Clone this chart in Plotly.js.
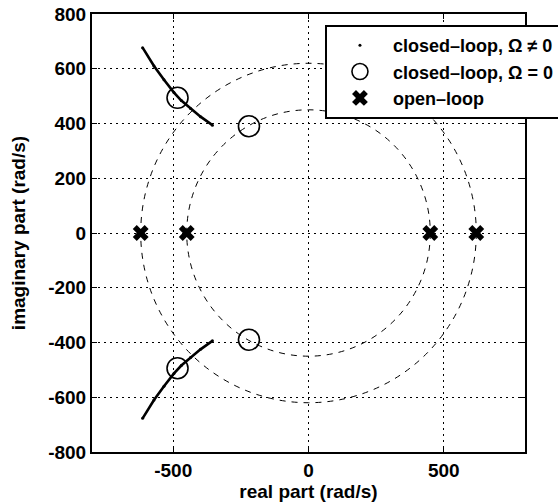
<!DOCTYPE html>
<html>
<head>
<meta charset="utf-8">
<script src="https://cdn.plot.ly/plotly-3.0.1.min.js"></script>
<style>html,body{margin:0;padding:0;background:#fff;}#chart{width:558px;height:502px;}</style>
</head>
<body>
<div id="chart"></div>
<script>
// Closed-loop poles, Omega != 0 (root locus branches)
var locusUpperRe = [-613, -571, -534, -497, -470, -436, -399, -355];
var locusUpperIm = [677, 610, 560, 513, 484, 455, 425, 394];
var locusLowerRe = [-613, -571, -534, -497, -470, -436, -399, -355];
var locusLowerIm = [-677, -610, -560, -513, -484, -455, -425, -394];
// Closed-loop poles, Omega = 0
var clRe = [-484, -484, -220, -220];
var clIm = [494, -494, 390, -390];
// Open-loop poles
var olRe = [-620, -450, 450, 620];
var olIm = [0, 0, 0, 0];
// Constant-magnitude circles (dashed)
var circleRadii = [450, 620];
// Tick labels
var xTickVals = [-500, 0, 500];
var xTickText = ["-500", "0", "500"];
var yTickVals = [-800, -600, -400, -200, 0, 200, 400, 600, 800];
var yTickText = ["-800", "-600", "-400", "-200", "0", "200", "400", "600", "800"];
var legendNames = ["closed\u2013loop, \u03A9 \u2260 0", "closed\u2013loop, \u03A9 = 0", "open\u2013loop"];

var FONT = "Liberation Sans, Arial, Helvetica, sans-serif";
function f(size) { return {family: FONT, size: size, color: "#000", weight: 700}; }

var traces = [
  {x: locusUpperRe, y: locusUpperIm, mode: "lines", line: {color: "#000", width: 2.6}, showlegend: false, hoverinfo: "skip"},
  {x: locusLowerRe, y: locusLowerIm, mode: "lines", line: {color: "#000", width: 2.6}, showlegend: false, hoverinfo: "skip"},
  {x: locusUpperRe.concat(locusLowerRe), y: locusUpperIm.concat(locusLowerIm), mode: "markers",
   marker: {color: "#000", size: 3, symbol: "circle"}, name: legendNames[0]},
  {x: clRe, y: clIm, mode: "markers", name: legendNames[1],
   marker: {symbol: "circle-open", size: 21, color: "#000", line: {color: "#000", width: 1.6}}},
  {x: olRe, y: olIm, mode: "markers", name: legendNames[2],
   marker: {symbol: "x", size: 14, color: "#000", line: {width: 0}}}
];

var shapes = circleRadii.map(function (r) {
  return {type: "circle", xref: "x", yref: "y", x0: -r, x1: r, y0: -r, y1: r,
          line: {color: "#000", width: 1, dash: "6px,6px"}, layer: "below"};
});

var axisCommon = {
  showline: true, mirror: "allticks", linecolor: "#000", linewidth: 2,
  ticks: "inside", ticklen: 5, tickcolor: "#000", tickwidth: 1,
  showgrid: true, gridcolor: "#000", gridwidth: 1, griddash: "2px,4px",
  zeroline: false, tickfont: f(19), fixedrange: true
};

var layout = {
  width: 558, height: 502,
  margin: {l: 92, r: 33, t: 14, b: 50, autoexpand: false},
  paper_bgcolor: "#fff", plot_bgcolor: "#fff",
  font: f(19),
  xaxis: Object.assign({}, axisCommon, {
    range: [-800, 800], tickmode: "array", tickvals: xTickVals, ticktext: xTickText,
    title: {text: "real part (rad/s)", font: f(19), standoff: 3}
  }),
  yaxis: Object.assign({}, axisCommon, {
    range: [-800, 800], tickmode: "array", tickvals: yTickVals, ticktext: yTickText,
    title: {text: "imaginary part (rad/s)", font: f(19), standoff: 18}
  }),
  shapes: shapes,
  legend: {
    x: 0.538, y: 0.975, xanchor: "left", yanchor: "top",
    bgcolor: "#fff", bordercolor: "#000", borderwidth: 2,
    font: f(18), itemwidth: 56, tracegroupgap: 0
  },
  showlegend: true
};

Plotly.newPlot("chart", traces, layout, {displayModeBar: false, staticPlot: true});
</script>
</body>
</html>
